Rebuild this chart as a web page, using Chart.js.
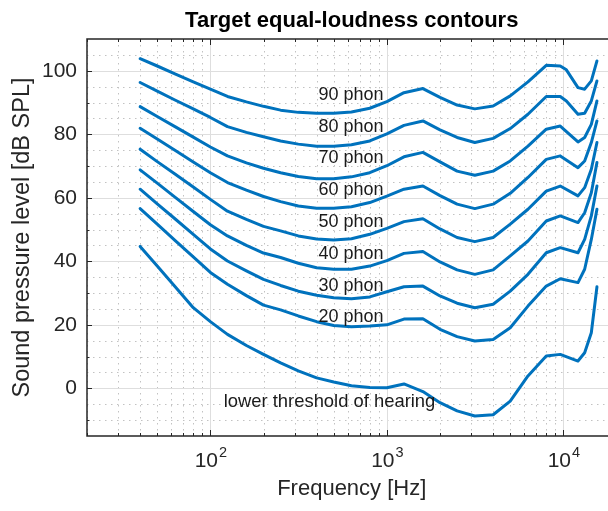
<!DOCTYPE html>
<html>
<head>
<meta charset="utf-8">
<script src="https://cdn.jsdelivr.net/npm/chart.js@4.4.1/dist/chart.umd.min.js"></script>
<style>
  html, body { margin:0; padding:0; background:#fff; overflow:hidden; }
  #wrap { width:608px; height:511px; overflow:hidden; }
</style>
</head>
<body>
<div id="wrap"><canvas id="loudnessChart" width="640" height="511"></canvas></div>
<script>
// frequencies [Hz] and levels [dB SPL]
const freqs = [40,50,63,80,100,125,160,200,250,315,400,500,630,800,1000,1250,1600,2000,2500,3150,4000,5000,6300,8000,9600,10400,12100,13200,14400,15500];

const phon90 = [103.8,101.5,99.0,96.5,94.2,91.9,90.2,88.8,87.6,86.9,86.6,86.6,87.0,88.2,90.3,93.1,94.4,91.6,89.2,88.0,88.9,92.1,96.5,101.7,101.5,100.3,94.7,94.2,96.8,103.1];
const phon80 = [96.3,93.6,90.8,88.0,85.3,82.4,80.6,79.2,77.9,76.9,76.2,76.2,76.7,77.9,80.1,82.8,84.2,81.4,79.0,77.4,78.7,81.8,86.3,91.9,91.9,90.5,86.3,86.6,90.5,96.8];
const phon70 = [88.7,85.6,82.4,79.1,76.0,73.2,71.0,69.3,67.9,66.7,66.0,66.0,66.6,67.9,70.1,72.9,74.3,71.3,68.4,67.1,68.4,71.6,76.3,81.6,82.6,null,77.6,79.0,83.1,90.5];
const phon60 = [81.9,78.5,75.0,71.3,67.9,64.8,62.4,60.4,58.8,57.4,56.7,56.7,57.2,58.5,60.5,62.7,63.7,60.7,58.0,56.6,58.0,61.4,66.4,72.1,73.2,null,69.5,71.6,77.4,84.2];
const phon50 = [75.3,71.4,67.5,63.4,59.5,55.8,53.2,51.0,49.6,48.0,47.0,46.7,47.1,48.5,50.4,52.5,53.4,50.2,47.5,46.2,47.5,51.7,56.4,62.1,63.7,null,60.6,63.2,69.0,77.4];
const phon40 = [68.8,64.6,60.2,55.7,51.5,48.0,45.0,42.6,41.2,39.4,38.0,37.5,37.5,38.5,40.2,42.5,43.1,39.8,37.3,35.9,37.3,41.7,46.4,52.7,54.3,null,52.2,55.3,61.6,71.1];
const phon30 = [62.7,58.1,53.4,48.5,43.9,40.1,37.0,34.3,32.4,30.6,29.3,28.5,28.2,28.8,30.4,32.0,32.2,29.1,26.8,25.4,26.5,30.6,35.9,42.7,44.3,null,42.7,46.9,54.3,63.7];
const phon20 = [56.6,51.7,46.6,41.4,36.5,32.8,29.2,26.2,24.7,22.8,21.0,19.8,19.4,19.6,20.0,21.8,21.9,18.6,16.3,14.9,15.4,19.1,25.9,32.2,34.5,null,33.3,37.5,46.9,56.4];
const threshold = [44.7,38.5,32.1,25.4,21.0,17.0,13.5,10.7,8.0,5.5,3.3,2.0,0.8,0.3,0.2,1.4,-1.0,-4.5,-7.1,-8.7,-8.3,-4.0,3.9,10.2,10.7,null,8.6,11.2,17.5,32.0];

const curves = [phon90, phon80, phon70, phon60, phon50, phon40, phon30, phon20, threshold];

// axis ticks
const xMajor = [100, 1000, 10000];
const xExp = ['2', '3', '4'];
const xMinor = [20,30,40,50,60,70,80,90,200,300,400,500,600,700,800,900,2000,3000,4000,5000,6000,7000,8000,9000];
const yMajor = [0, 20, 40, 60, 80, 100];
const yMinorTicks = [-10, 10, 30, 50, 70, 90];
const yMinorGrid = [-10,-5,5,10,15,25,30,35,45,50,55,65,70,75,85,90,95,105];

// text annotations (in data units)
const phonNames = ['90 phon','80 phon','70 phon','60 phon','50 phon','40 phon','30 phon','20 phon'];
const phonLevels = [90, 80, 70, 60, 50, 40, 30, 20];
const phonLabelFreq = 410;
const thrText = 'lower threshold of hearing';
const thrTextFreq = 119;
const thrTextLevel = -6;

const FONT = '"Liberation Sans", Arial, Helvetica, sans-serif';
const INK = '#262626';

const matlabAxes = {
  id: 'matlabAxes',
  beforeDatasetsDraw(chart) {
    const {ctx, chartArea: a, scales: {x, y}} = chart;
    ctx.save();
    ctx.lineWidth = 1;
    // minor grid, dotted
    ctx.strokeStyle = '#c2c2c2';
    ctx.setLineDash([1.5, 4.5]);
    ctx.beginPath();
    xMinor.forEach(v => {
      const px = Math.round(x.getPixelForValue(v)) + 0.5;
      ctx.moveTo(px, a.top); ctx.lineTo(px, a.bottom);
    });
    yMinorGrid.forEach(v => {
      const py = Math.round(y.getPixelForValue(v)) + 0.5;
      ctx.moveTo(a.left, py); ctx.lineTo(a.right, py);
    });
    ctx.stroke();
    // major grid, solid
    ctx.setLineDash([]);
    ctx.strokeStyle = '#dedede';
    ctx.beginPath();
    xMajor.forEach(v => {
      const px = Math.round(x.getPixelForValue(v)) + 0.5;
      ctx.moveTo(px, a.top); ctx.lineTo(px, a.bottom);
    });
    yMajor.forEach(v => {
      const py = Math.round(y.getPixelForValue(v)) + 0.5;
      ctx.moveTo(a.left, py); ctx.lineTo(a.right, py);
    });
    ctx.stroke();
    ctx.restore();
  },
  afterDatasetsDraw(chart) {
    const {ctx, chartArea: a, scales: {x, y}} = chart;
    ctx.save();
    // annotations
    ctx.fillStyle = '#1a1a1a';
    ctx.font = '18px ' + FONT;
    ctx.textAlign = 'left';
    ctx.textBaseline = 'alphabetic';
    phonNames.forEach((t, i) => {
      ctx.fillText(t, x.getPixelForValue(phonLabelFreq), y.getPixelForValue(phonLevels[i] + 0.8));
    });
    ctx.font = '18.4px ' + FONT;
    ctx.fillText(thrText, x.getPixelForValue(thrTextFreq), y.getPixelForValue(thrTextLevel));

    // box
    ctx.strokeStyle = INK;
    ctx.lineWidth = 1.5;
    ctx.beginPath();
    ctx.moveTo(a.left, a.top); ctx.lineTo(a.right, a.top);
    ctx.lineTo(a.right, a.bottom); ctx.lineTo(a.left, a.bottom);
    ctx.closePath();
    ctx.stroke();

    // inward ticks
    ctx.lineWidth = 1;
    ctx.beginPath();
    const xt = (v, len) => {
      const px = Math.round(x.getPixelForValue(v)) + 0.5;
      ctx.moveTo(px, a.bottom); ctx.lineTo(px, a.bottom - len);
      ctx.moveTo(px, a.top); ctx.lineTo(px, a.top + len);
    };
    const yt = (v, len) => {
      const py = Math.round(y.getPixelForValue(v)) + 0.5;
      ctx.moveTo(a.left, py); ctx.lineTo(a.left + len, py);
      ctx.moveTo(a.right, py); ctx.lineTo(a.right - len, py);
    };
    xMajor.forEach(v => xt(v, 6));
    xMinor.forEach(v => xt(v, 3));
    yMajor.forEach(v => yt(v, 5));
    yMinorTicks.forEach(v => yt(v, 2.5));
    ctx.stroke();

    // x tick labels as 10^n
    ctx.fillStyle = INK;
    ctx.textAlign = 'left';
    xMajor.forEach((v, i) => {
      const px = x.getPixelForValue(v);
      ctx.font = '21px ' + FONT;
      const wBase = ctx.measureText('10').width;
      ctx.font = '14.5px ' + FONT;
      const wExp = ctx.measureText(xExp[i]).width;
      const left = px - (wBase + wExp) / 2;
      ctx.font = '21px ' + FONT;
      ctx.fillText('10', left, a.bottom + 30.5);
      ctx.font = '14.5px ' + FONT;
      ctx.fillText(xExp[i], left + wBase + 1, a.bottom + 21);
    });
    ctx.restore();
  }
};

new Chart(document.getElementById('loudnessChart'), {
  type: 'line',
  data: {
    labels: freqs,
    datasets: curves.map(c => ({
      data: c,
      borderColor: '#0072BD',
      borderWidth: 3,
      pointRadius: 0,
      tension: 0,
      fill: false,
      spanGaps: true,
      borderJoinStyle: 'round',
      borderCapStyle: 'round'
    }))
  },
  options: {
    responsive: false,
    animation: false,
    devicePixelRatio: 1,
    layout: {padding: {left: 0, right: 23.5, top: 0, bottom: 0}},
    plugins: {
      legend: {display: false},
      tooltip: {enabled: false},
      title: {
        display: true,
        text: 'Target equal-loudness contours',
        fullSize: false,
        color: '#000',
        font: {family: FONT, size: 22, weight: 'bold'},
        padding: {top: 7.8, bottom: 4.8}
      }
    },
    scales: {
      x: {
        type: 'logarithmic',
        min: 20,
        max: 20000,
        grid: {display: false, drawTicks: false},
        border: {display: false},
        ticks: {display: false},
        title: {display: true, text: 'Frequency [Hz]', color: INK,
                font: {family: FONT, size: 22}, padding: {top: 0, bottom: 8.5}},
        afterFit: s => { s.height = 75; }
      },
      y: {
        type: 'linear',
        min: -15,
        max: 110,
        grid: {display: false, drawTicks: false},
        border: {display: false},
        afterBuildTicks: s => { s.ticks = yMajor.map(v => ({value: v})); },
        ticks: {color: INK, font: {family: FONT, size: 21}, padding: 10},
        title: {display: true, text: 'Sound pressure level [dB SPL]', color: INK,
                font: {family: FONT, size: 23.5}, padding: {top: 8, bottom: 0}},
        afterFit: s => { s.width = 87; }
      }
    }
  },
  plugins: [matlabAxes]
});
</script>
</body>
</html>
